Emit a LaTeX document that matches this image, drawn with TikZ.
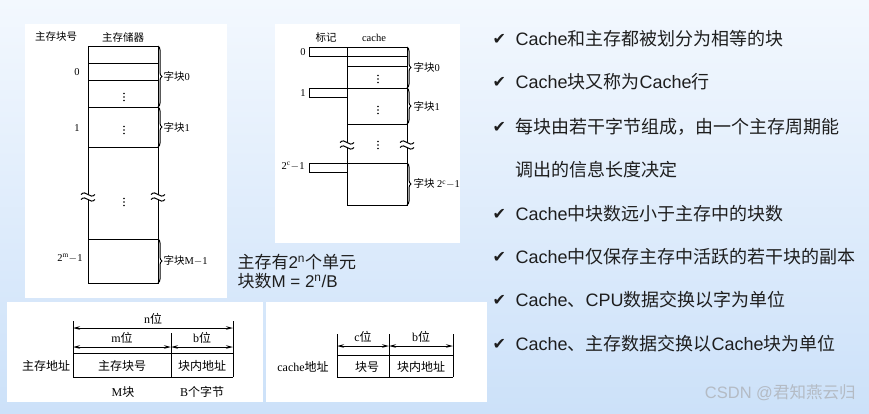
\documentclass[tikz,border=0pt]{standalone}
\usepackage{fontspec}
\setmainfont{Liberation Serif}
\setsansfont{Liberation Sans}
\newfontfamily\zhfont{Noto Sans CJK SC}
\newfontfamily\symfont{DejaVu Sans}
\newcommand{\zh}[1]{{\zhfont #1}}
\usetikzlibrary{arrows.meta,decorations.pathreplacing}
\definecolor{bgtop}{HTML}{F3F8FE}
\definecolor{bgbot}{HTML}{CCE1F9}
\definecolor{txt}{HTML}{1E1E1E}
\definecolor{wmgray}{HTML}{B4BBC4}
\tikzset{
	panel/.style={fill=white},
	lbl/.style={inner sep=0pt, font=\fontsize{10.5}{12}\selectfont},
	fmt/.style={inner sep=0pt, font=\fontsize{12}{14}\selectfont},
	blockbrace/.style={decorate, decoration={brace, amplitude=4pt}},
	span/.style={{Stealth[length=7pt,width=3.5pt]}-{Stealth[length=7pt,width=3.5pt]}},
	point/.style={anchor=west, inner sep=0pt, text=txt, font=\sffamily\fontsize{18}{20}\selectfont},
	tick/.style={anchor=west, inner sep=0pt, text=txt, font=\symfont\fontsize{16}{17}\selectfont},
	vdots/.pic={\foreach \d in {-3.5,0,3.5} \fill (0,\d) circle (0.9);},
	cutmark/.pic={
		\fill[white] (-7,-2.5) .. controls (-2,-8) and (2,3) .. (7,-2.5) -- (7,2.5) .. controls (2,8) and (-2,-3) .. (-7,2.5) -- cycle;
		\draw (-7,-2.5) .. controls (-2,-8) and (2,3) .. (7,-2.5);
		\draw (-7,2.5) .. controls (-2,-3) and (2,8) .. (7,2.5);
	}
}
\begin{document}
\begin{tikzpicture}[x=1pt, y=-1pt, line width=1pt]
	\useasboundingbox (0,0) rectangle (869,413);
	\shade[top color=bgtop, bottom color=bgbot] (0,0) rectangle (869,413);

	% white panels
	\fill[panel] (25,24) rectangle (227,298);
	\fill[panel] (275,24) rectangle (460,243);
	\fill[panel] (7,302) rectangle (263,402);
	\fill[panel] (266,302) rectangle (487,402);

	% main memory
	\node[lbl] (mmno) at (56,37) {\zh{主存块号}};
	\node[lbl] (mmhd) at (123,37) {\zh{主存储器}};
	\draw (88,46) rectangle (158,283);
	\foreach \y in {63,80,107,147,239} \draw (88,\y) -- (158,\y);
	\foreach \y in {97,130,202} \pic at (124,\y) {vdots};
	\pic at (88,197) {cutmark};
	\pic at (158,197) {cutmark};
	\draw[blockbrace] (158,46) -- (158,107) node[lbl, midway, right=5pt] (mmb0) {\zh{字块}0};
	\draw[blockbrace] (158,107) -- (158,147) node[lbl, midway, right=5pt] (mmb1) {\zh{字块}1};
	\draw[blockbrace] (158,239) -- (158,283) node[lbl, midway, right=5pt] (mmbm) {\zh{字块}M$-$1};
	\node[lbl, anchor=east] (mmn0) at (80,72) {0};
	\node[lbl, anchor=east] (mmn1) at (80,128) {1};
	\node[lbl, anchor=east] (mmnm) at (83,258) {2\textsuperscript{m}$-$1};

	% cache
	\node[lbl] (chtag) at (326,38) {\zh{标记}};
	\node[lbl] (chhd) at (374,38) {cache};
	\draw (347,47) rectangle (407,205);
	\foreach \y in {56,66,88,124,163} \draw (347,\y) -- (407,\y);
	\foreach \y in {47,88,163} \draw (309,\y) rectangle (347,\y+9);
	\foreach \y in {79,110,145} \pic at (378,\y) {vdots};
	\pic at (347,145) {cutmark};
	\pic at (407,145) {cutmark};
	\draw[blockbrace] (407,47) -- (407,88) node[lbl, midway, right=6pt] (chb0) {\zh{字块}0};
	\draw[blockbrace] (407,88) -- (407,124) node[lbl, midway, right=6pt] (chb1) {\zh{字块}1};
	\draw[blockbrace] (407,163) -- (407,205) node[lbl, midway, right=6pt] (chbc) {\zh{字块} 2\textsuperscript{c}$-$1};
	\node[lbl, anchor=east] (chn0) at (306,52) {0};
	\node[lbl, anchor=east] (chn1) at (306,93) {1};
	\node[lbl, anchor=east] (chnc) at (305,166) {2\textsuperscript{c}$-$1};

	% main memory address
	\coordinate (nl) at (73,328);
	\coordinate (nr) at (233,328);
	\coordinate (ml) at (73,347);
	\coordinate (mr) at (171,347);
	\coordinate (br) at (233,347);
	\draw (73,321) -- (73,377);
	\draw (233,321) -- (233,377);
	\draw (171,333) -- (171,377);
	\draw (73,353) -- (233,353);
	\draw (73,377) -- (233,377);
	\draw[span] (nl) -- (nr) node[fmt, midway, above=3pt] (nbit) {n\zh{位}};
	\draw[span] (ml) -- (mr) node[fmt, midway, above=3pt] (mbit) {m\zh{位}};
	\draw[span] (mr) -- (br) node[fmt, midway, above=3pt] (bbit) {b\zh{位}};
	\node[fmt] (maddr) at (46,366) {\zh{主存地址}};
	\node[fmt] (mblk) at (122,366) {\zh{主存块号}};
	\node[fmt] (moff) at (202,366) {\zh{块内地址}};
	\node[fmt] (mcnt) at (123,392) {M\zh{块}};
	\node[fmt] (bcnt) at (202,392) {B\zh{个字节}};

	% cache address
	\coordinate (cl) at (337,346);
	\coordinate (cm) at (389,346);
	\coordinate (cr) at (453,346);
	\foreach \x in {337,389,453} \draw (\x,334) -- (\x,377);
	\draw (337,355) -- (453,355);
	\draw (337,377) -- (453,377);
	\draw[span] (cl) -- (cm) node[fmt, midway, above=3pt] (cbit) {c\zh{位}};
	\draw[span] (cm) -- (cr) node[fmt, midway, above=3pt] (cbbit) {b\zh{位}};
	\node[fmt] (caddr) at (303,367) {cache\zh{地址}};
	\node[fmt] (cblk) at (367,367) {\zh{块号}};
	\node[fmt] (coff) at (421,367) {\zh{块内地址}};

	% note
	\node[anchor=west, inner sep=0pt, align=left, text=txt, font=\sffamily\fontsize{17}{19}\selectfont] (note) at (237,272)
		{\zh{主存有}2\textsuperscript{n}\zh{个单元}\\\zh{块数}M = 2\textsuperscript{n}/B};

	% bullet points
	\foreach \y in {39,82,127,214,257,300,344} \node[tick] (tk\y) at (492,\y) {✔};
	\foreach \y/\t [count=\i] in {
		39/{Cache\zh{和主存都被划分为相等的块}},
		82/{Cache\zh{块又称为}Cache\zh{行}},
		127/{\zh{每块由若干字节组成，由一个主存周期能}},
		170/{\zh{调出的信息长度决定}},
		214/{Cache\zh{中块数远小于主存中的块数}},
		257/{Cache\zh{中仅保存主存中活跃的若干块的副本}},
		300/{Cache\zh{、}CPU\zh{数据交换以字为单位}},
		344/{Cache\zh{、主存数据交换以}Cache\zh{块为单位}}}
		\node[point] (pt\i) at (515,\y) {\t};

	\node[anchor=east, inner sep=0pt, text=wmgray, font=\sffamily\fontsize{16.5}{18}\selectfont] (wm) at (856,393) {CSDN @\zh{君知燕云归}};
\end{tikzpicture}
\end{document}
